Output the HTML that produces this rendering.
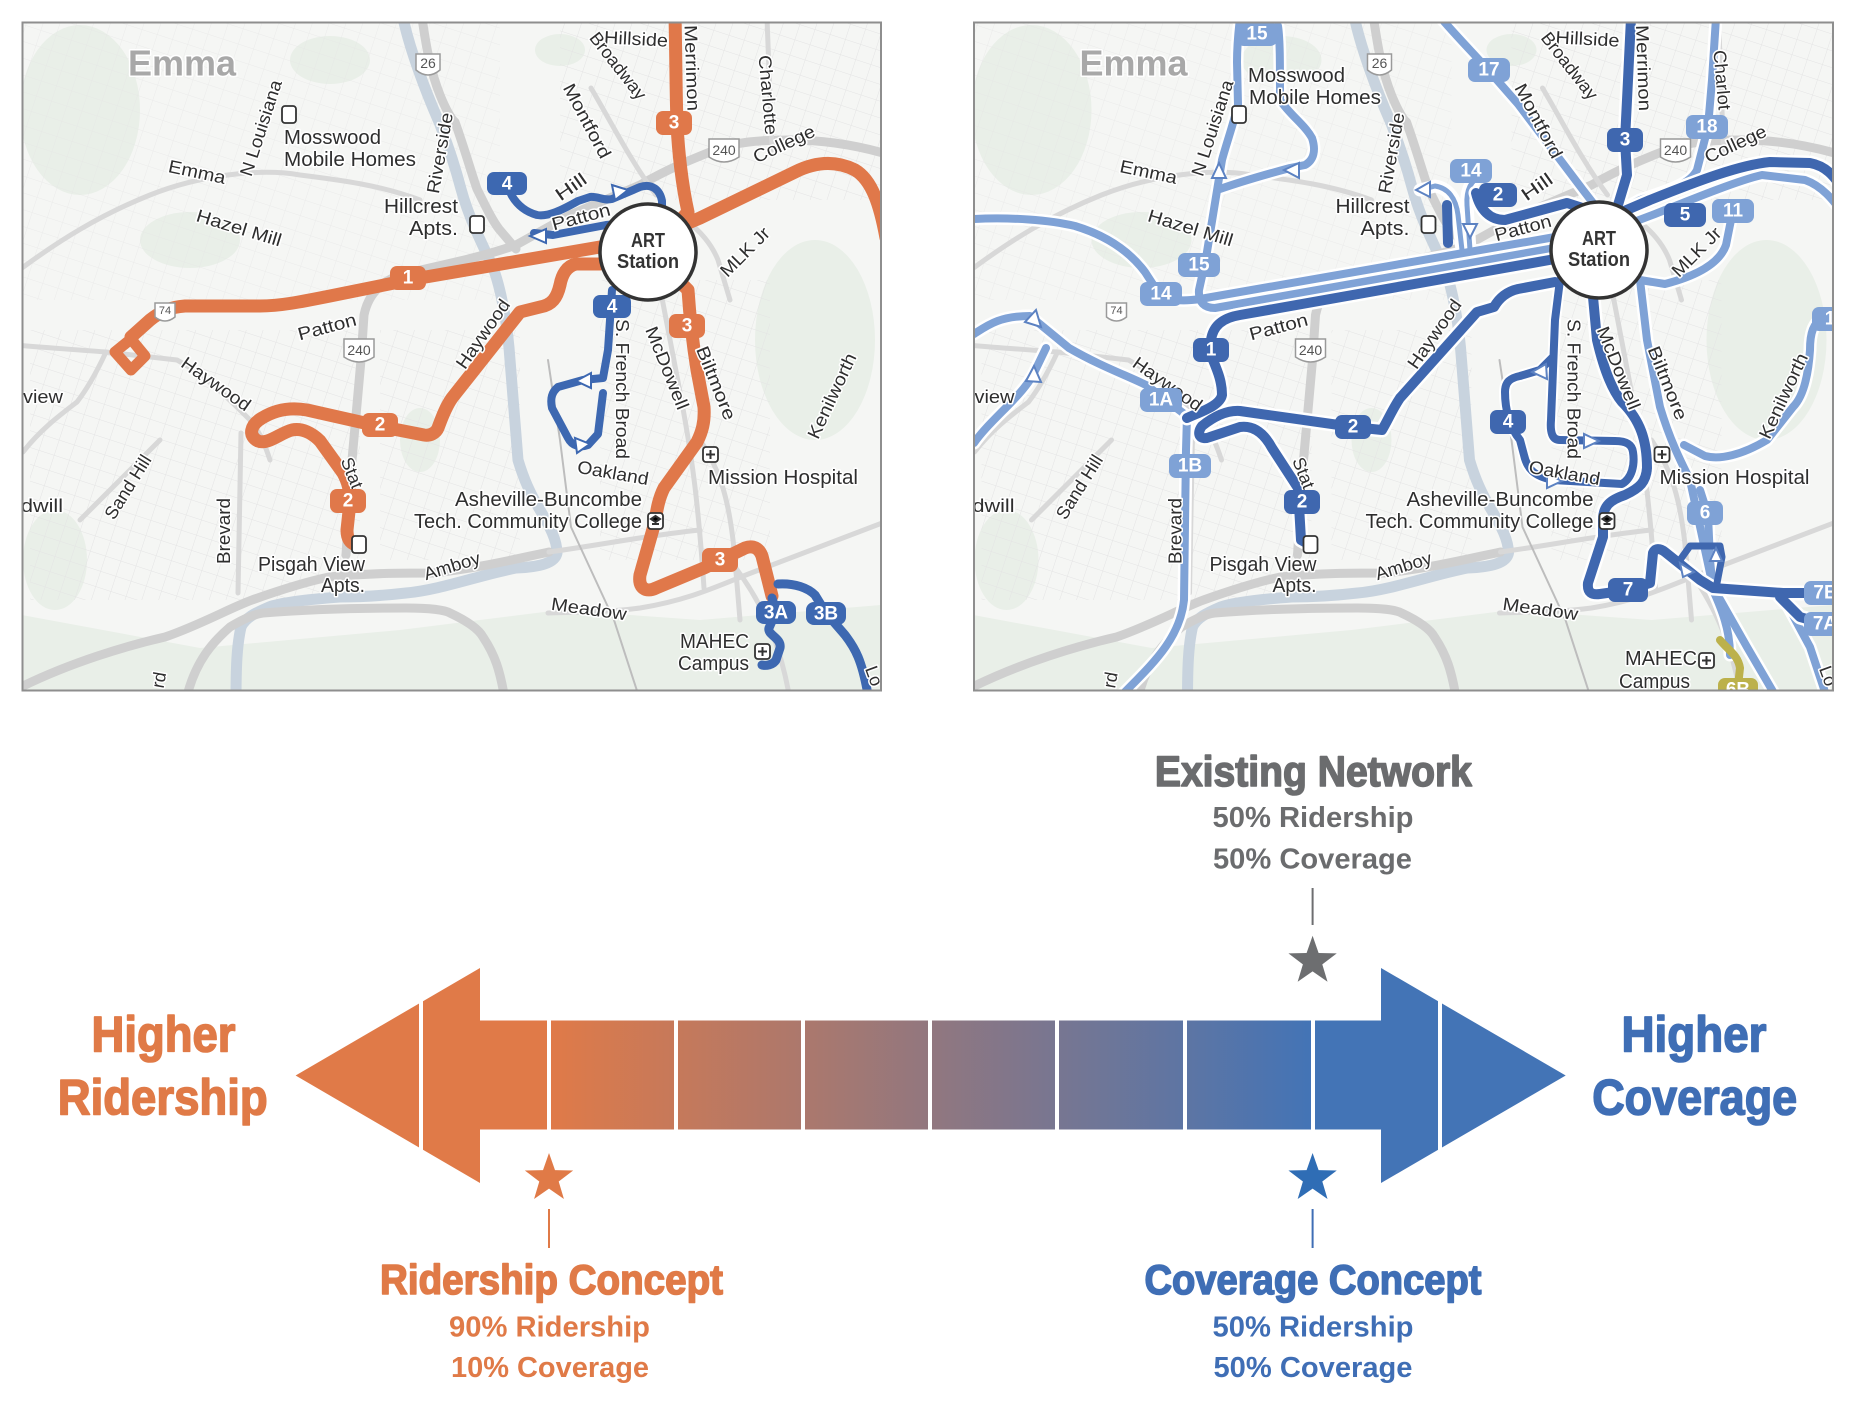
<!DOCTYPE html>
<html><head><meta charset="utf-8">
<style>
html,body{margin:0;padding:0;background:#fff;}
body{width:1854px;height:1418px;overflow:hidden;}
svg{display:block;}
.lb{font-family:"Liberation Sans Narrow","Liberation Sans",sans-serif;fill:#2e2e2e;font-size:18px;text-anchor:middle;dominant-baseline:central;stroke:#fff;stroke-width:3px;paint-order:stroke;stroke-linejoin:round;}
.pl{font-size:20px;}
.bd{font-family:"Liberation Sans Narrow","Liberation Sans",sans-serif;font-weight:bold;fill:#fff;font-size:19px;text-anchor:middle;dominant-baseline:central;}
.sh{font-family:"Liberation Sans Narrow","Liberation Sans",sans-serif;fill:#555;font-size:14px;text-anchor:middle;dominant-baseline:central;}
.big{font-family:"Liberation Sans Narrow","Liberation Sans",sans-serif;font-weight:bold;text-anchor:middle;}
.hv{stroke-width:1.6px;stroke-linejoin:round;}
.sub{font-family:"Liberation Sans",sans-serif;font-weight:bold;text-anchor:middle;}
</style></head>
<body>
<svg width="1854" height="1418" viewBox="0 0 1854 1418" xmlns="http://www.w3.org/2000/svg">
<defs>
 <clipPath id="cl"><rect x="22.5" y="22.5" width="858.5" height="668"/></clipPath>
 <clipPath id="cr"><rect x="974" y="22.5" width="859" height="668"/></clipPath>
 <pattern id="st" width="16" height="16" patternUnits="userSpaceOnUse" patternTransform="rotate(18)">
  <path d="M0 0H16M0 0V16" stroke="#e4e4e4" stroke-width="1" fill="none"/>
 </pattern>
 <linearGradient id="grad" gradientUnits="userSpaceOnUse" x1="549" y1="0" x2="1313" y2="0">
  <stop offset="0" stop-color="#E07A48"/><stop offset="1" stop-color="#4374B6"/>
 </linearGradient>
 <g id="base">
  <rect x="0" y="0" width="900" height="700" fill="#f5f6f4"/>
  <g fill="#e9efe8">
   <ellipse cx="80" cy="110" rx="60" ry="85"/>
   <ellipse cx="190" cy="240" rx="50" ry="28"/>
   <ellipse cx="330" cy="60" rx="40" ry="24"/>
   <ellipse cx="815" cy="340" rx="60" ry="100"/>
   <ellipse cx="560" cy="50" rx="25" ry="16"/>
   <path d="M22,615 L200,648 L400,630 L560,610 L700,620 L881,605 L881,700 L22,700Z"/>
   <ellipse cx="55" cy="560" rx="32" ry="50"/>
   <ellipse cx="420" cy="440" rx="20" ry="32"/>
  </g>
  <g fill="url(#st)">
   <path d="M30,330 L360,330 L360,600 L30,600Z"/>
   <path d="M560,22 L881,22 L881,200 L560,200Z"/>
   <path d="M600,280 L770,280 L770,560 L600,560Z"/>
   <path d="M380,330 L520,330 L520,560 L380,560Z"/>
   <path d="M22,22 L500,22 L500,300 L22,300Z" opacity=".6"/>
  </g>
  <g fill="none" stroke-linecap="round" stroke-linejoin="round">
   <path d="M403,18 C410,50 425,90 439,122 C450,150 456,170 461,189 C468,215 480,240 492,265 C502,290 508,330 510,360 L518,460 C524,480 530,493 540,510 C550,527 557,540 557,553 C555,563 540,567 516,568 C480,575 440,590 406,593 C380,596 360,597 340,597 C300,600 280,603 269,607 C255,613 245,618 241,627 C237,645 236,665 236,700" stroke="#c8d3de" stroke-width="11"/>
   <g stroke="#cfcfcf" stroke-width="9">
    <path d="M422,18 C426,45 430,70 440,95 C446,110 452,120 455,122 C465,150 472,175 477,189 C485,205 492,220 499,229 L516,249"/>
    <path d="M890,155 C850,143 815,140 790,140 C760,140 735,142 715,150 C690,160 670,168 640,185 L570,215 L516,245"/>
    <path d="M516,245 C480,258 440,265 400,275 C380,282 368,295 364,315 L361,360 L352,460 L346,555"/>
    <path d="M15,690 C70,662 130,645 165,637 C200,625 230,608 252,600 C280,590 305,582 329,577 C370,573 400,573 433,573 C480,568 520,558 549,552"/>
    <path d="M186,700 C195,660 215,640 230,627 C245,618 255,614 263,613 C300,610 350,608 406,608 C430,608 445,610 450,613 C465,620 478,628 483,637 C495,655 500,670 505,700"/>
   </g>
   <g stroke="#d8d8d8" stroke-width="5">
    <path d="M15,345 C50,348 80,350 106,352 L177,360 C205,375 230,400 250,420 C260,432 265,445 270,460"/>
    <path d="M662,298 C670,340 678,380 685,420 C692,460 698,500 704,588"/>
    <path d="M700,440 C720,470 730,500 735,560 L740,620"/>
    <path d="M591,88 C610,120 630,160 656,195"/>
    <path d="M767,18 L772,150"/>
    <path d="M241,433 L238,593"/>
    <path d="M80,520 L160,440"/>
    <path d="M23,452 C40,430 60,415 77,402 C90,385 100,365 106,352"/>
    <path d="M548,613 C580,612 610,612 640,608 C690,600 720,585 751,573 L890,520"/>
    <path d="M735,567 C760,600 780,640 790,700"/>
    <path d="M22,268 C60,240 100,215 150,195 C200,175 260,168 300,175 C340,180 380,185 420,200"/>
    <path d="M549,552 C600,545 650,535 700,530"/>
    <path d="M686,221 C700,230 712,245 718,260 L730,300"/>
   </g>
   <path d="M548,360 L560,440 L571,527 L614,620 L640,700" stroke="#bdbdbd" stroke-width="2"/>
  </g>
 </g>
 <path id="L1" d="M974,219 C1010,217 1050,220 1075,226 C1108,236 1130,252 1145,272 L1158,292 C1165,300 1180,302 1200,299 L1555,237"/>
 <path id="L2" d="M1240,18 C1238,35 1237,48 1237,62 L1238,105 C1233,125 1226,145 1222,160 L1206,258 L1199,290 C1198,303 1205,308 1215,308 L1555,248"/>
 <path id="L3" d="M1278,26 C1280,40 1280,60 1280,100 C1290,115 1305,125 1312,138 C1316,150 1314,160 1305,165 L1290,168 C1260,176 1240,182 1220,189"/>
 <path id="L4" d="M974,334 C988,325 1000,316 1030,316 L1069,348 C1100,366 1128,376 1146,385 L1187,416"/>
 <path id="L5" d="M974,443 C990,420 1020,398 1033,375 L1046,348"/>
 <path id="L6" d="M1187,416 L1186,450 L1184,600 C1180,640 1150,666 1122,695"/>
 <path id="L7" d="M1441,18 C1458,38 1478,58 1490,72 L1518,104 L1583,190 L1600,212"/>
 <path id="L8" d="M1716,18 L1712,80 L1708,127 L1697,170 C1690,184 1670,190 1640,200 L1612,215"/>
 <path id="L9" d="M1618,228 L1655,214 C1700,196 1740,180 1762,175 L1805,180 C1822,186 1833,200 1842,212"/>
 <path id="L10" d="M1733,210 L1726,245 C1720,262 1700,275 1665,284 L1640,280"/>
 <path id="L11" d="M1640,280 L1647,340 L1660,407 C1670,440 1680,460 1690,480 L1713,587 L1747,647 L1775,695"/>
 <path id="L12" d="M1842,317 L1824,317 C1813,323 1810,333 1810,350 C1808,380 1802,398 1793,407 L1767,440 C1742,455 1720,460 1705,456 L1684,445"/>
 <path id="L13" d="M1783,597 L1810,647 L1826,695"/>
 <path id="L14" d="M1462,250 L1458,215 C1456,198 1448,188 1435,186 L1420,190"/>
 <path id="L15" d="M1470,250 L1467,205 C1466,190 1471,180 1482,175"/>
 <path id="L16" d="M1700,490 L1708,515 L1710,560 L1713,590 C1722,610 1730,630 1730,655"/>
 <path id="D1" d="M1555,259 L1240,315 C1222,318 1213,326 1211,340 L1213,360 C1218,372 1222,382 1222,395 C1220,406 1200,412 1187,418"/>
 <path id="D2" d="M1555,282 L1518,289 C1505,292 1498,300 1494,307 L1477,312 L1400,398 C1392,410 1388,420 1382,430 L1353,427 L1240,411 C1226,410 1212,418 1202,426 C1196,434 1200,441 1210,437 L1240,427 C1255,425 1265,435 1272,448 L1298,488 L1301,540 L1310,545"/>
 <path id="D3" d="M1631,18 L1628,80 L1625,140 L1627,175 L1618,205"/>
 <path id="D4" d="M1615,215 L1650,200 C1700,180 1740,165 1770,162 L1810,163 C1826,166 1834,176 1842,188"/>
 <path id="D5" d="M1560,280 L1555,320 L1551,420 C1550,432 1552,440 1560,440 L1615,441 C1626,441 1632,444 1633,452 C1635,465 1632,478 1622,484 L1553,480 C1533,476 1527,468 1524,455 L1520,440 C1510,428 1505,410 1505,392 C1505,382 1510,378 1520,376 L1540,370 L1553,357"/>
 <path id="D6" d="M1593,297 L1597,340 C1604,370 1612,390 1622,402 C1640,420 1647,440 1647,468 C1646,482 1640,488 1625,495 C1610,500 1603,506 1603,520 L1603,537 L1588,583 C1587,593 1592,595 1600,594 L1628,590 L1650,583 L1653,553 C1655,548 1660,548 1665,552 L1700,580 L1713,588 L1783,593 L1845,593"/>
 <path id="D7" d="M1780,597 L1800,617 L1845,630"/>
 <path id="D8" d="M1476,193 C1480,210 1490,220 1505,220 L1567,203 L1595,212"/>
 <path id="D9" d="M1447,205 L1448,243"/>
 <path id="D10" d="M1680,560 L1690,546 L1720,546 L1722,557 L1717,583"/>
</defs>

<!-- ================= LEFT MAP ================= -->
<g clip-path="url(#cl)">
 <use href="#base"/>

 <!-- orange routes -->
 <g fill="none" stroke="#E0784A" stroke-width="13" stroke-linejoin="round" stroke-linecap="round">
  <path d="M886,238 C880,205 872,180 855,170 C835,160 815,162 795,172 L700,218 L648,240 L600,247 L414,279 L330,296 C300,302 280,306 260,306 L185,306 C170,307 160,312 150,320 L131,337"/>
  <path d="M131,339 L145,356 L131,370 L115,352 Z" stroke-width="11"/>
  <path d="M675,16 C676,60 676,100 677,122 C678,150 682,185 688,212 L650,252"/>
  <path d="M660,262 L688,290 C690,320 693,345 697,370 L704,407 C705,422 702,432 697,442 L664,488 C659,498 657,508 655,522 L640,575 C638,588 646,593 656,588 L704,568 L745,548 C753,545 759,548 762,556 L772,596"/>
  <path d="M600,264 L576,264 C567,266 562,274 560,285 C557,298 552,305 540,307 L520,312 L452,398 C445,408 441,420 438,428 C436,433 430,436 424,435 L378,426 L307,410 C290,407 275,410 262,418 C250,425 248,436 258,441 C268,445 280,433 292,430 C302,428 312,433 320,441 L343,473 C348,482 350,490 350,502 L347,530 C347,539 350,543 356,545"/>
 </g>
 <!-- blue routes -->
 <g fill="none" stroke="#3D68B1" stroke-width="8" stroke-linejoin="round" stroke-linecap="round">
  <path d="M507,186 L512,196 C518,206 526,212 537,215 C548,217 562,210 578,201 L590,197 C598,196 603,201 612,199 L640,187 C652,183 660,190 662,201 L662,215"/>
  <path d="M640,222 L606,225 L553,235 L534,233"/>
  <path d="M612,290 L608,350 L603,378 L583,380 L558,387 C552,392 550,398 552,408 L568,438 C572,446 580,448 588,445 L598,434 L603,393"/>
  <path d="M772,598 L776,612 L769,628 C767,635 782,638 780,648 L776,660 C773,665 766,666 762,665" stroke-width="9"/>
  <path d="M778,584 C795,583 808,588 815,595 L826,613 L845,635 C855,648 862,660 868,695" stroke-width="9"/>
 </g>
 <g fill="#fff" stroke="#3D68B1" stroke-width="2">
  <polygon points="530,236 546,229 546,243"/>
  <polygon points="628,190 612,185 615,200"/>
  <polygon points="576,381 591,373 591,388"/>
  <polygon points="590,444 575,438 577,453"/>
 </g>
 <!-- shields (above routes) -->
 <g stroke="#9a9a9a" stroke-width="1.5" fill="#fff">
  <path d="M416,54 L440,54 L440,70 Q428,80 416,70Z"/>
  <path d="M709,139 L739,139 L739,157 Q724,167 709,157Z"/>
  <path d="M344,339 L374,339 L374,357 Q359,367 344,357Z"/>
  <path d="M155,303 L175,303 L175,317 Q165,325 155,317Z"/>
 </g>
 <text class="sh" x="428" y="63">26</text>
 <text class="sh" x="724" y="150">240</text>
 <text class="sh" x="359" y="350">240</text>
 <text class="sh" x="165" y="311" style="font-size:11px">74</text>
 <g class="lb">
  <text x="182" y="63" style="fill:#a8a8a8;font-size:36px;font-weight:bold" textLength="108" lengthAdjust="spacingAndGlyphs">Emma</text>
  <text transform="translate(261,128) rotate(-72)" textLength="100" lengthAdjust="spacingAndGlyphs">N Louisiana</text>
  <text class="pl" x="284" y="138" style="text-anchor:start" textLength="97" lengthAdjust="spacingAndGlyphs">Mosswood</text>
  <text class="pl" x="284" y="160" style="text-anchor:start" textLength="132" lengthAdjust="spacingAndGlyphs">Mobile Homes</text>
  <text transform="translate(197,172) rotate(12)" textLength="58" lengthAdjust="spacingAndGlyphs">Emma</text>
  <text transform="translate(239,228) rotate(17)" textLength="88" lengthAdjust="spacingAndGlyphs">Hazel Mill</text>
  <text transform="translate(440,153) rotate(-80)" textLength="82" lengthAdjust="spacingAndGlyphs">Riverside</text>
  <text class="pl" x="458" y="207" style="text-anchor:end" textLength="74" lengthAdjust="spacingAndGlyphs">Hillcrest</text>
  <text class="pl" x="458" y="229" style="text-anchor:end" textLength="49" lengthAdjust="spacingAndGlyphs">Apts.</text>
  <text transform="translate(571,187) rotate(-35)" textLength="34" lengthAdjust="spacingAndGlyphs">Hill</text>
  <text transform="translate(581,217) rotate(-15)" textLength="60" lengthAdjust="spacingAndGlyphs">Patton</text>
  <text transform="translate(636,39) rotate(3)" textLength="64" lengthAdjust="spacingAndGlyphs">Hillside</text>
  <text transform="translate(618,66) rotate(52)" textLength="80" lengthAdjust="spacingAndGlyphs">Broadway</text>
  <text transform="translate(692,68) rotate(88)" textLength="86" lengthAdjust="spacingAndGlyphs">Merrimon</text>
  <text transform="translate(587,121) rotate(62)" textLength="82" lengthAdjust="spacingAndGlyphs">Montford</text>
  <text transform="translate(768,95) rotate(85)" textLength="80" lengthAdjust="spacingAndGlyphs">Charlotte</text>
  <text transform="translate(784,144) rotate(-25)" textLength="66" lengthAdjust="spacingAndGlyphs">College</text>
  <text transform="translate(745,252) rotate(-45)" textLength="62" lengthAdjust="spacingAndGlyphs">MLK Jr</text>
  <text transform="translate(327,327) rotate(-15)" textLength="60" lengthAdjust="spacingAndGlyphs">Patton</text>
  <text transform="translate(483,334) rotate(-55)" textLength="80" lengthAdjust="spacingAndGlyphs">Haywood</text>
  <text transform="translate(216,384) rotate(35)" textLength="80" lengthAdjust="spacingAndGlyphs">Haywood</text>
  <text x="63" y="397" style="text-anchor:end" textLength="40" lengthAdjust="spacingAndGlyphs">view</text>
  <text x="63" y="506" style="text-anchor:end" textLength="42" lengthAdjust="spacingAndGlyphs">dwill</text>
  <text transform="translate(128,487) rotate(-58)" textLength="72" lengthAdjust="spacingAndGlyphs">Sand Hill</text>
  <text transform="translate(224,531) rotate(-90)" textLength="66" lengthAdjust="spacingAndGlyphs">Brevard</text>
  <text transform="translate(352,473) rotate(68)" textLength="32" lengthAdjust="spacingAndGlyphs">Stat</text>
  <text class="pl" x="365" y="565" style="text-anchor:end" textLength="107" lengthAdjust="spacingAndGlyphs">Pisgah View</text>
  <text class="pl" x="365" y="586" style="text-anchor:end" textLength="44" lengthAdjust="spacingAndGlyphs">Apts.</text>
  <text transform="translate(452,566) rotate(-17)" textLength="58" lengthAdjust="spacingAndGlyphs">Amboy</text>
  <text transform="translate(613,473) rotate(10)" textLength="72" lengthAdjust="spacingAndGlyphs">Oakland</text>
  <text class="pl" x="642" y="500" style="text-anchor:end" textLength="187" lengthAdjust="spacingAndGlyphs">Asheville-Buncombe</text>
  <text class="pl" x="642" y="522" style="text-anchor:end" textLength="228" lengthAdjust="spacingAndGlyphs">Tech. Community College</text>
  <text transform="translate(622,389) rotate(90)" textLength="140" lengthAdjust="spacingAndGlyphs">S. French Broad</text>
  <text transform="translate(667,368) rotate(68)" textLength="88" lengthAdjust="spacingAndGlyphs">McDowell</text>
  <text transform="translate(716,383) rotate(68)" textLength="78" lengthAdjust="spacingAndGlyphs">Biltmore</text>
  <text transform="translate(832,396) rotate(-65)" textLength="92" lengthAdjust="spacingAndGlyphs">Kenilworth</text>
  <text class="pl" x="708" y="478" style="text-anchor:start" textLength="150" lengthAdjust="spacingAndGlyphs">Mission Hospital</text>
  <text transform="translate(589,609) rotate(8)" textLength="76" lengthAdjust="spacingAndGlyphs">Meadow</text>
  <text class="pl" x="749" y="642" style="text-anchor:end" textLength="69" lengthAdjust="spacingAndGlyphs">MAHEC</text>
  <text class="pl" x="749" y="664" style="text-anchor:end" textLength="71" lengthAdjust="spacingAndGlyphs">Campus</text>
  <text transform="translate(874,676) rotate(70)">Lo</text>
  <text transform="translate(159,680) rotate(-80)">rd</text>
 </g>
 <g fill="#fff" stroke="#333" stroke-width="1.8">
  <rect x="282" y="106" width="14" height="17" rx="3"/>
  <rect x="470" y="216" width="14" height="17" rx="3"/>
  <rect x="352" y="536" width="14" height="17" rx="3"/>
  <rect x="703" y="447" width="15" height="15" rx="3"/>
  <rect x="755" y="644" width="15" height="15" rx="3"/>
  <rect x="648" y="513" width="15" height="16" rx="3"/>
 </g>
 <g stroke="#333" stroke-width="2"><path d="M710.5,450 V459 M706,454.5 H715"/><path d="M762.5,647 V656 M758,651.5 H767"/><path d="M651,519 L655.5,516 L660,519 L655.5,522Z M652,524 H659"/></g>
 <!-- badges -->
 <g fill="#E0784A">
  <rect x="390" y="266" width="36" height="24" rx="7"/>
  <rect x="656" y="111" width="36" height="24" rx="7"/>
  <rect x="669" y="314" width="36" height="24" rx="7"/>
  <rect x="362" y="413" width="36" height="24" rx="7"/>
  <rect x="330" y="489" width="36" height="24" rx="7"/>
  <rect x="702" y="548" width="36" height="24" rx="7"/>
 </g>
 <g fill="#3D68B1">
  <rect x="487" y="172" width="40" height="23" rx="7"/>
  <rect x="593" y="295" width="38" height="23" rx="7"/>
  <rect x="756" y="601" width="40" height="23" rx="8"/>
  <rect x="806" y="602" width="40" height="23" rx="8"/>
 </g>
 <g class="bd">
  <text x="408" y="278">1</text><text x="674" y="123">3</text><text x="687" y="326">3</text>
  <text x="380" y="425">2</text><text x="348" y="501">2</text><text x="720" y="560">3</text>
  <text x="507" y="184">4</text><text x="612" y="307">4</text>
  <text x="776" y="613">3A</text><text x="826" y="614">3B</text>
 </g>
 <circle cx="648" cy="252" r="48" fill="#fff" stroke="#333" stroke-width="3.5"/>
 <text class="big" x="648" y="247" style="font-size:20px;fill:#333" textLength="34" lengthAdjust="spacingAndGlyphs">ART</text>
 <text class="big" x="648" y="268" style="font-size:20px;fill:#333" textLength="62" lengthAdjust="spacingAndGlyphs">Station</text>
</g>
<rect x="22.5" y="22.5" width="858.5" height="668" fill="none" stroke="#8e8e8e" stroke-width="2"/>

<!-- ================= RIGHT MAP ================= -->
<g clip-path="url(#cr)">
 <use href="#base" transform="translate(951.5,0)"/>

 <!-- casings -->
 <g fill="none" stroke="#fff" stroke-linejoin="round" stroke-linecap="round">
  <g stroke-width="13">
   <use href="#L1"/><use href="#L2"/><use href="#L3"/><use href="#L4"/><use href="#L5"/><use href="#L6"/><use href="#L7"/><use href="#L8"/><use href="#L9"/><use href="#L10"/><use href="#L11"/><use href="#L12"/><use href="#L13"/><use href="#L14"/><use href="#L15"/><use href="#L16"/>
  </g>
 </g>
 <g fill="none" stroke="#7FA2D6" stroke-width="8" stroke-linejoin="round" stroke-linecap="round">
  <use href="#L1"/><use href="#L2"/><use href="#L3"/><use href="#L4"/><use href="#L5"/><use href="#L6"/><use href="#L7"/><use href="#L8"/><use href="#L9"/><use href="#L10"/><use href="#L11"/><use href="#L12"/><use href="#L13"/><use href="#L14" stroke-width="5"/><use href="#L15" stroke-width="5"/><use href="#L16"/>
 </g>
 <path d="M1720,640 C1728,650 1738,655 1740,668 L1737,695" fill="none" stroke="#BCB14B" stroke-width="8" stroke-linecap="round"/>
 <g fill="none" stroke="#fff" stroke-width="15" stroke-linejoin="round" stroke-linecap="round">
  <use href="#D1"/><use href="#D2"/><use href="#D3"/><use href="#D4"/><use href="#D5" stroke-width="12"/><use href="#D6"/><use href="#D7"/><use href="#D8"/>
 </g>
 <g fill="none" stroke="#3F67AF" stroke-width="10" stroke-linejoin="round" stroke-linecap="round">
  <use href="#D1"/><use href="#D2"/><use href="#D3"/><use href="#D4"/><use href="#D5" stroke-width="8"/><use href="#D6"/><use href="#D7"/><use href="#D8"/><use href="#D9"/><use href="#D10" stroke-width="7"/>
 </g>
 <g fill="#fff" stroke="#5C82C2" stroke-width="2">
  <polygon points="1219,163 1212,178 1226,178"/>
  <polygon points="1284,170 1299,163 1299,178"/>
  <polygon points="1041,327 1025,322 1036,310"/>
  <polygon points="1034,366 1026,381 1041,382"/>
  <polygon points="1532,372 1546,364 1547,379"/>
  <polygon points="1599,441 1584,434 1584,448"/>
  <polygon points="1562,481 1547,474 1547,488"/>
  <polygon points="1716,548 1710,561 1722,561"/>
  <polygon points="1694,572 1680,563 1683,577"/>
  <polygon points="1416,190 1430,182 1430,197"/>
  <polygon points="1470,238 1463,224 1477,224"/>
 </g>
 <!-- shields -->
 <g stroke="#9a9a9a" stroke-width="1.5" fill="#fff">
  <path d="M1367.5,54 L1391.5,54 L1391.5,70 Q1379.5,80 1367.5,70Z"/>
  <path d="M1660.5,139 L1690.5,139 L1690.5,157 Q1675.5,167 1660.5,157Z"/>
  <path d="M1295.5,339 L1325.5,339 L1325.5,357 Q1310.5,367 1295.5,357Z"/>
  <path d="M1106.5,303 L1126.5,303 L1126.5,317 Q1116.5,325 1106.5,317Z"/>
 </g>
 <text class="sh" x="1379.5" y="63">26</text>
 <text class="sh" x="1675.5" y="150">240</text>
 <text class="sh" x="1310.5" y="350">240</text>
 <text class="sh" x="1116.5" y="311" style="font-size:11px">74</text>
 <g class="lb">
  <text x="1133.5" y="63" style="fill:#a8a8a8;font-size:36px;font-weight:bold" textLength="108" lengthAdjust="spacingAndGlyphs">Emma</text>
  <text transform="translate(1212.5,128) rotate(-72)" textLength="100" lengthAdjust="spacingAndGlyphs">N Louisiana</text>
  <text class="pl" x="1248" y="76" style="text-anchor:start" textLength="97" lengthAdjust="spacingAndGlyphs">Mosswood</text>
  <text class="pl" x="1249" y="98" style="text-anchor:start" textLength="132" lengthAdjust="spacingAndGlyphs">Mobile Homes</text>
  <text transform="translate(1148.5,172) rotate(12)" textLength="58" lengthAdjust="spacingAndGlyphs">Emma</text>
  <text transform="translate(1190.5,228) rotate(17)" textLength="88" lengthAdjust="spacingAndGlyphs">Hazel Mill</text>
  <text transform="translate(1391.5,153) rotate(-80)" textLength="82" lengthAdjust="spacingAndGlyphs">Riverside</text>
  <text class="pl" x="1409.5" y="207" style="text-anchor:end" textLength="74" lengthAdjust="spacingAndGlyphs">Hillcrest</text>
  <text class="pl" x="1409.5" y="229" style="text-anchor:end" textLength="49" lengthAdjust="spacingAndGlyphs">Apts.</text>
  <text transform="translate(1537,187) rotate(-35)" textLength="34" lengthAdjust="spacingAndGlyphs">Hill</text>
  <text transform="translate(1523,228) rotate(-15)" textLength="58" lengthAdjust="spacingAndGlyphs">Patton</text>
  <text transform="translate(1587.5,39) rotate(3)" textLength="64" lengthAdjust="spacingAndGlyphs">Hillside</text>
  <text transform="translate(1569.5,66) rotate(52)" textLength="80" lengthAdjust="spacingAndGlyphs">Broadway</text>
  <text transform="translate(1643.5,68) rotate(88)" textLength="86" lengthAdjust="spacingAndGlyphs">Merrimon</text>
  <text transform="translate(1538.5,121) rotate(62)" textLength="82" lengthAdjust="spacingAndGlyphs">Montford</text>
  <text transform="translate(1722,80) rotate(85)" textLength="60" lengthAdjust="spacingAndGlyphs">Charlot</text>
  <text transform="translate(1735.5,144) rotate(-25)" textLength="66" lengthAdjust="spacingAndGlyphs">College</text>
  <text transform="translate(1696.5,252) rotate(-45)" textLength="62" lengthAdjust="spacingAndGlyphs">MLK Jr</text>
  <text transform="translate(1278.5,327) rotate(-15)" textLength="60" lengthAdjust="spacingAndGlyphs">Patton</text>
  <text transform="translate(1434.5,334) rotate(-55)" textLength="80" lengthAdjust="spacingAndGlyphs">Haywood</text>
  <text transform="translate(1167.5,384) rotate(35)" textLength="80" lengthAdjust="spacingAndGlyphs">Haywood</text>
  <text x="1014.5" y="397" style="text-anchor:end" textLength="40" lengthAdjust="spacingAndGlyphs">view</text>
  <text x="1014.5" y="506" style="text-anchor:end" textLength="42" lengthAdjust="spacingAndGlyphs">dwill</text>
  <text transform="translate(1079.5,487) rotate(-58)" textLength="72" lengthAdjust="spacingAndGlyphs">Sand Hill</text>
  <text transform="translate(1175.5,531) rotate(-90)" textLength="66" lengthAdjust="spacingAndGlyphs">Brevard</text>
  <text transform="translate(1303.5,473) rotate(68)" textLength="32" lengthAdjust="spacingAndGlyphs">Stat</text>
  <text class="pl" x="1316.5" y="565" style="text-anchor:end" textLength="107" lengthAdjust="spacingAndGlyphs">Pisgah View</text>
  <text class="pl" x="1316.5" y="586" style="text-anchor:end" textLength="44" lengthAdjust="spacingAndGlyphs">Apts.</text>
  <text transform="translate(1403.5,566) rotate(-17)" textLength="58" lengthAdjust="spacingAndGlyphs">Amboy</text>
  <text transform="translate(1564.5,473) rotate(10)" textLength="72" lengthAdjust="spacingAndGlyphs">Oakland</text>
  <text class="pl" x="1593.5" y="500" style="text-anchor:end" textLength="187" lengthAdjust="spacingAndGlyphs">Asheville-Buncombe</text>
  <text class="pl" x="1593.5" y="522" style="text-anchor:end" textLength="228" lengthAdjust="spacingAndGlyphs">Tech. Community College</text>
  <text transform="translate(1573.5,389) rotate(90)" textLength="140" lengthAdjust="spacingAndGlyphs">S. French Broad</text>
  <text transform="translate(1618.5,368) rotate(68)" textLength="88" lengthAdjust="spacingAndGlyphs">McDowell</text>
  <text transform="translate(1667.5,383) rotate(68)" textLength="78" lengthAdjust="spacingAndGlyphs">Biltmore</text>
  <text transform="translate(1783.5,396) rotate(-65)" textLength="92" lengthAdjust="spacingAndGlyphs">Kenilworth</text>
  <text class="pl" x="1659.5" y="478" style="text-anchor:start" textLength="150" lengthAdjust="spacingAndGlyphs">Mission Hospital</text>
  <text transform="translate(1540.5,609) rotate(8)" textLength="76" lengthAdjust="spacingAndGlyphs">Meadow</text>
  <text class="pl" x="1697" y="659" style="text-anchor:end" textLength="72" lengthAdjust="spacingAndGlyphs">MAHEC</text>
  <text class="pl" x="1690" y="682" style="text-anchor:end" textLength="71" lengthAdjust="spacingAndGlyphs">Campus</text>
  <text transform="translate(1828,676) rotate(70)">Lo</text>
  <text transform="translate(1110.5,680) rotate(-80)">rd</text>
 </g>
 <g fill="#fff" stroke="#333" stroke-width="1.8">
  <rect x="1232" y="106" width="14" height="17" rx="3"/>
  <rect x="1421.5" y="216" width="14" height="17" rx="3"/>
  <rect x="1303.5" y="536" width="14" height="17" rx="3"/>
  <rect x="1654.5" y="447" width="15" height="15" rx="3"/>
  <rect x="1699" y="653" width="15" height="15" rx="3"/>
  <rect x="1599.5" y="513" width="15" height="16" rx="3"/>
 </g>
 <g stroke="#333" stroke-width="2"><path d="M1662,450 V459 M1657.5,454.5 H1666.5"/><path d="M1706.5,656 V665 M1702,660.5 H1711"/><path d="M1602.5,519 L1607,516 L1611.5,519 L1607,522Z M1603.5,524 H1610.5"/></g>
 <!-- badges -->
 <g fill="#7FA2D6">
  <rect x="1236" y="22" width="42" height="24" rx="8"/>
  <rect x="1468" y="58" width="42" height="24" rx="7"/>
  <rect x="1686" y="115" width="42" height="24" rx="7"/>
  <rect x="1450" y="159" width="42" height="24" rx="7"/>
  <rect x="1712" y="199" width="42" height="24" rx="7"/>
  <rect x="1178" y="253" width="42" height="24" rx="7"/>
  <rect x="1140" y="282" width="42" height="24" rx="7"/>
  <rect x="1140" y="388" width="42" height="24" rx="7"/>
  <rect x="1169" y="454" width="42" height="24" rx="7"/>
  <rect x="1687" y="501" width="36" height="24" rx="7"/>
  <rect x="1804" y="581" width="42" height="24" rx="7"/>
  <rect x="1804" y="612" width="42" height="24" rx="7"/>
  <rect x="1812" y="307" width="36" height="24" rx="7"/>
 </g>
 <g fill="#3F67AF">
  <rect x="1607" y="128" width="36" height="24" rx="7"/>
  <rect x="1479" y="183" width="38" height="24" rx="7"/>
  <rect x="1664" y="203" width="42" height="24" rx="7"/>
  <rect x="1193" y="338" width="36" height="24" rx="7"/>
  <rect x="1335" y="415" width="36" height="24" rx="7"/>
  <rect x="1284" y="490" width="36" height="24" rx="7"/>
  <rect x="1490" y="410" width="36" height="24" rx="7"/>
  <rect x="1608" y="578" width="40" height="24" rx="7"/>
 </g>
 <rect x="1718" y="678" width="40" height="24" rx="7" fill="#BCB14B"/>
 <g class="bd">
  <text x="1257" y="34">15</text><text x="1489" y="70">17</text><text x="1707" y="127">18</text>
  <text x="1471" y="171">14</text><text x="1733" y="211">11</text><text x="1199" y="265">15</text>
  <text x="1161" y="294">14</text><text x="1161" y="400">1A</text><text x="1190" y="466">1B</text>
  <text x="1705" y="513">6</text><text x="1825" y="593">7E</text><text x="1825" y="624">7A</text>
  <text x="1830" y="319">1</text>
  <text x="1625" y="140">3</text><text x="1498" y="195">2</text><text x="1685" y="215">5</text>
  <text x="1211" y="350">1</text><text x="1353" y="427">2</text><text x="1302" y="502">2</text>
  <text x="1508" y="422">4</text><text x="1628" y="590">7</text>
  <text x="1738" y="690">6B</text>
 </g>
 <circle cx="1599" cy="250" r="48" fill="#fff" stroke="#333" stroke-width="3.5"/>
 <text class="big" x="1599" y="245" style="font-size:20px;fill:#333" textLength="34" lengthAdjust="spacingAndGlyphs">ART</text>
 <text class="big" x="1599" y="266" style="font-size:20px;fill:#333" textLength="62" lengthAdjust="spacingAndGlyphs">Station</text>
</g>
<rect x="974" y="22.5" width="859" height="668" fill="none" stroke="#8e8e8e" stroke-width="2"/>

<!-- ================= SPECTRUM ARROW ================= -->
<polygon points="295.6,1075.5 480,968 480,1020.5 1381,1020.5 1381,968 1565.7,1075.5 1381,1183 1381,1129.5 480,1129.5 480,1183" fill="url(#grad)"/>
<g stroke="#fff" stroke-width="4">
 <line x1="421" y1="1001" x2="421" y2="1150"/>
 <line x1="1440" y1="1001" x2="1440" y2="1150"/>
 <line x1="549" y1="1019" x2="549" y2="1131"/>
 <line x1="676" y1="1019" x2="676" y2="1131"/>
 <line x1="803" y1="1019" x2="803" y2="1131"/>
 <line x1="930" y1="1019" x2="930" y2="1131"/>
 <line x1="1057" y1="1019" x2="1057" y2="1131"/>
 <line x1="1185" y1="1019" x2="1185" y2="1131"/>
 <line x1="1313" y1="1019" x2="1313" y2="1131"/>
</g>

<!-- stars & leader lines -->
<polygon transform="translate(549,1178.4)" points="0,-25.4 6,-8.25 24.16,-7.85 9.7,3.15 14.93,20.55 0,10.2 -14.93,20.55 -9.7,3.15 -24.16,-7.85 -6,-8.25" fill="#E07A47"/>
<polygon transform="translate(1312.6,961.2)" points="0,-25.4 6,-8.25 24.16,-7.85 9.7,3.15 14.93,20.55 0,10.2 -14.93,20.55 -9.7,3.15 -24.16,-7.85 -6,-8.25" fill="#6d6e70"/>
<polygon transform="translate(1312.6,1178.4)" points="0,-25.4 6,-8.25 24.16,-7.85 9.7,3.15 14.93,20.55 0,10.2 -14.93,20.55 -9.7,3.15 -24.16,-7.85 -6,-8.25" fill="#2F6DB5"/>
<line x1="549" y1="1209" x2="549" y2="1248" stroke="#E07A47" stroke-width="2"/>
<line x1="1312.6" y1="1209" x2="1312.6" y2="1248" stroke="#3F6EB5" stroke-width="2"/>
<line x1="1312.6" y1="888" x2="1312.6" y2="925" stroke="#6d6e70" stroke-width="2"/>

<!-- texts -->
<g class="big hv" fill="#E07A47" stroke="#E07A47">
 <text x="163.5" y="1051.6" style="font-size:50px" textLength="144" lengthAdjust="spacingAndGlyphs">Higher</text>
 <text x="162.7" y="1114.4" style="font-size:50px" textLength="210" lengthAdjust="spacingAndGlyphs">Ridership</text>
 <text x="551.5" y="1294" style="font-size:42px" textLength="343" lengthAdjust="spacingAndGlyphs">Ridership Concept</text>
</g>
<g class="sub" fill="#E07A47">
 <text x="549.5" y="1336.5" style="font-size:29px" textLength="201" lengthAdjust="spacingAndGlyphs">90% Ridership</text>
 <text x="550" y="1377" style="font-size:29px" textLength="198" lengthAdjust="spacingAndGlyphs">10% Coverage</text>
</g>
<g class="big hv" fill="#3F6EB5" stroke="#3F6EB5">
 <text x="1694" y="1051.6" style="font-size:50px" textLength="145" lengthAdjust="spacingAndGlyphs">Higher</text>
 <text x="1694.7" y="1114.4" style="font-size:50px" textLength="205" lengthAdjust="spacingAndGlyphs">Coverage</text>
 <text x="1313" y="1294" style="font-size:42px" textLength="337" lengthAdjust="spacingAndGlyphs">Coverage Concept</text>
</g>
<g class="sub" fill="#3F6EB5">
 <text x="1313" y="1336.5" style="font-size:29px" textLength="201" lengthAdjust="spacingAndGlyphs">50% Ridership</text>
 <text x="1313" y="1377" style="font-size:29px" textLength="199" lengthAdjust="spacingAndGlyphs">50% Coverage</text>
</g>
<g class="big hv" fill="#6b6c6e" stroke="#6b6c6e">
 <text x="1313.4" y="786" style="font-size:43px" textLength="317" lengthAdjust="spacingAndGlyphs">Existing Network</text>
</g>
<g class="sub" fill="#6b6c6e">
 <text x="1313" y="827" style="font-size:29px" textLength="201" lengthAdjust="spacingAndGlyphs">50% Ridership</text>
 <text x="1312.5" y="868.5" style="font-size:29px" textLength="199" lengthAdjust="spacingAndGlyphs">50% Coverage</text>
</g>
</svg>
</body></html>
